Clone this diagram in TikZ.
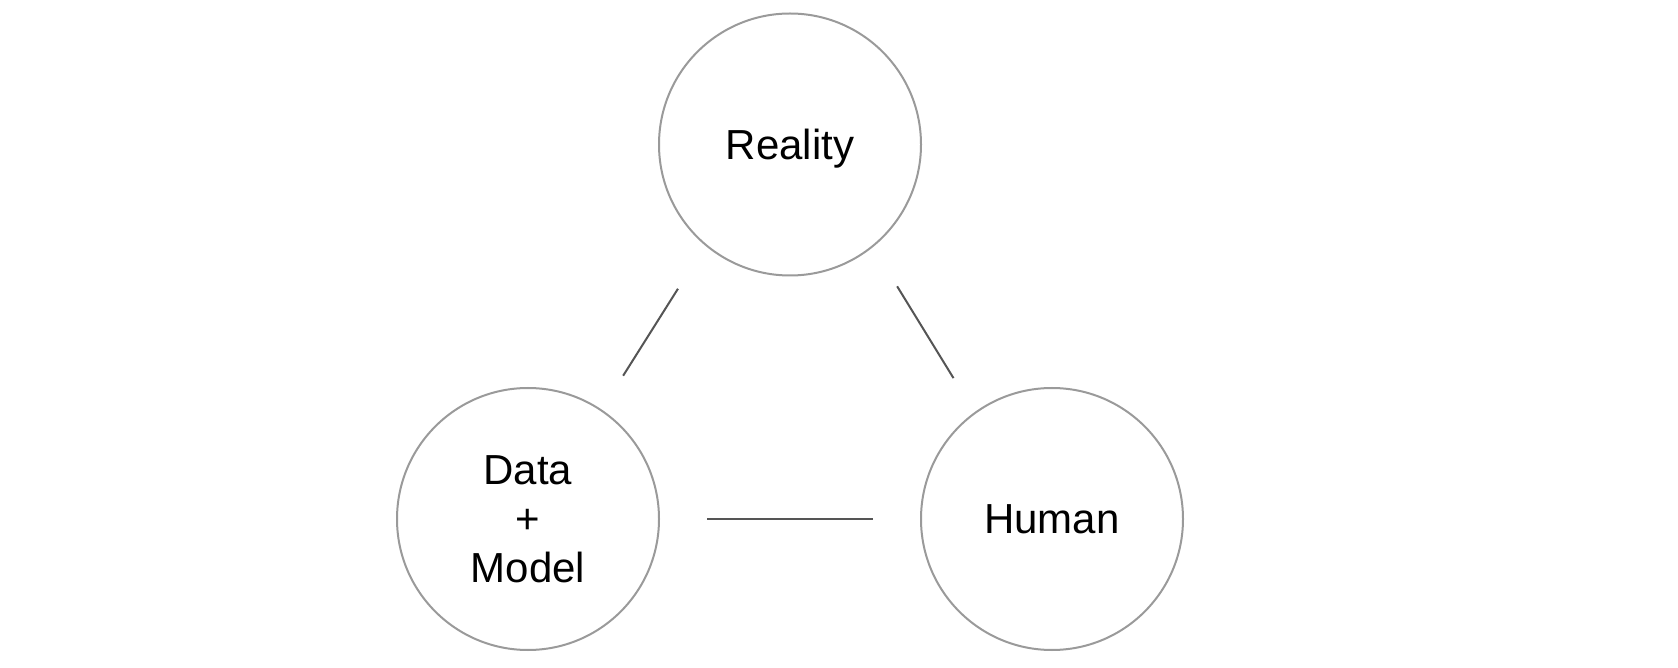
\documentclass[tikz,border=0pt]{standalone}
\usepackage{fontspec}
\setmainfont{Liberation Sans}
\usepackage{xcolor}
\definecolor{ringgray}{HTML}{9A9A9A}
\definecolor{linkgray}{HTML}{555555}
\tikzset{
	circ/.style={circle,draw=ringgray,line width=1pt,minimum size=131pt,inner sep=0pt,align=center,text depth=0pt,font=\fontsize{21}{24.5}\selectfont},
	link/.style={draw=linkgray,line width=1pt}
}
\begin{document}
\begin{tikzpicture}[x=0.5pt,y=-0.5pt]
			\useasboundingbox (0,0) rectangle (1678,668);
			\node[circ] (reality) at (790,144.5) {Reality};
			\node[circ] (datamodel) at (528,519) {Data\\+\\Model};
			\node[circ] (human) at (1052,519) {Human};
			\draw[link,shorten <=25.5pt,shorten >=20pt] (reality.230) -- (datamodel.56);
			\draw[link,shorten <=23pt,shorten >=20pt] (reality.309) -- (human.126);
			\draw[link,shorten <=23.5pt,shorten >=23.5pt] (datamodel.east) -- (human.west);
		\end{tikzpicture}
\end{document}
